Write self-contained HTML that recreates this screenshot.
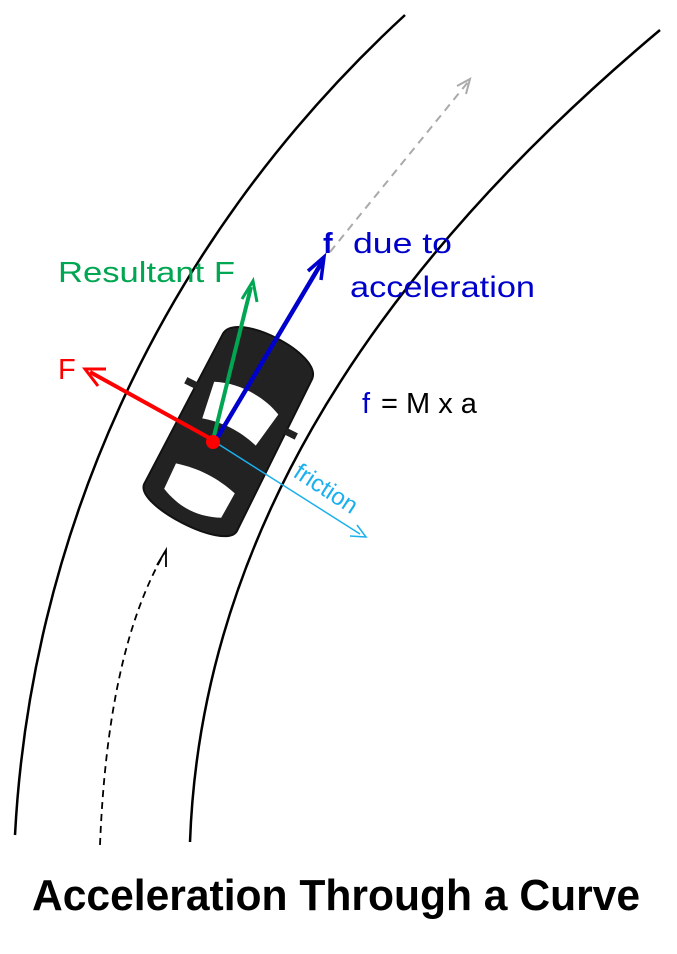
<!DOCTYPE html>
<html><head><meta charset="utf-8"><style>html,body{margin:0;padding:0;background:#fff}svg{display:block}</style></head>
<body>
<svg width="677" height="954" viewBox="0 0 677 954" xmlns="http://www.w3.org/2000/svg" font-family="Liberation Sans, sans-serif">
<!-- road -->
<path d="M15,835 C30,550 150,250 405,15" fill="none" stroke="#000" stroke-width="2.5"/>
<path d="M190,842 C200,560 350,290 660,30" fill="none" stroke="#000" stroke-width="2.5"/>
<!-- dashed paths -->
<path d="M100,845 C105,720 125,620 165,552" fill="none" stroke="#000" stroke-width="1.8" stroke-dasharray="7,5"/>
<path d="M157,565 L166,550 L166,567" fill="none" stroke="#000" stroke-width="1.8"/>
<path d="M330,252 L468,82" fill="none" stroke="#aaa" stroke-width="2" stroke-dasharray="8,6"/>
<path d="M457,86 L470,79 L466,94" fill="none" stroke="#aaa" stroke-width="2"/>
<!-- car -->
<g transform="translate(229,432) rotate(27)">
<path d="M-50,-85 C-48,-112 48,-112 50,-85 L52,85 C50,108 -50,108 -52,85 Z" fill="#222" stroke="#111" stroke-width="2"/>
<path d="M-36,-38 C-15,-48 15,-48 36,-38 L30,0 C10,-6 -10,-6 -30,0 Z" fill="#fff"/>
<path d="M-33,52 C-10,46 10,46 33,52 L32,80 C10,90 -10,90 -32,80 Z" fill="#fff"/>
<rect x="-62" y="-30" width="12" height="7" fill="#222"/>
<rect x="50" y="-30" width="12" height="7" fill="#222"/>
</g>
<!-- arrows -->
<line x1="215" y1="442" x2="360" y2="534" stroke="#1ab0ee" stroke-width="1.5"/>
<path d="M350,536 L366,537 L357,525" fill="none" stroke="#1ab0ee" stroke-width="1.5"/>
<line x1="213" y1="440" x2="90" y2="372" stroke="red" stroke-width="4"/>
<path d="M98,386 L85,369 L106,369" fill="none" stroke="red" stroke-width="3"/>
<line x1="213" y1="440" x2="251" y2="287" stroke="#00a651" stroke-width="4"/>
<path d="M242,299 L253,281 L257,302" fill="none" stroke="#00a651" stroke-width="3"/>
<line x1="216" y1="440" x2="322" y2="262" stroke="#0000cc" stroke-width="4.5"/>
<path d="M308,271 L324,257 L321,280" fill="none" stroke="#0000cc" stroke-width="3.5"/>
<circle cx="213" cy="442" r="7" fill="red"/>
<!-- labels -->
<text x="58" y="282" font-size="29" fill="#00a651" textLength="177" lengthAdjust="spacingAndGlyphs">Resultant  F</text>
<text x="58" y="379" font-size="29" fill="red">F</text>
<text x="323" y="253" font-size="29" fill="#0000cc" font-weight="bold">f</text>
<text x="353" y="253" font-size="29" fill="#0000cc" textLength="99" lengthAdjust="spacingAndGlyphs">due to</text>
<text x="350" y="297" font-size="30" fill="#0000cc" textLength="185" lengthAdjust="spacingAndGlyphs">acceleration</text>
<text x="362" y="413" font-size="29" fill="#0000cc">f</text>
<text x="381" y="413" font-size="29" fill="#000">= M x a</text>
<text x="0" y="0" font-size="24" fill="#1ab0ee" transform="translate(292,476) rotate(33)">friction</text>
<text x="32" y="910" font-size="44" font-weight="bold" fill="#000" textLength="608" lengthAdjust="spacingAndGlyphs">Acceleration Through a Curve</text>
</svg>
</body></html>
